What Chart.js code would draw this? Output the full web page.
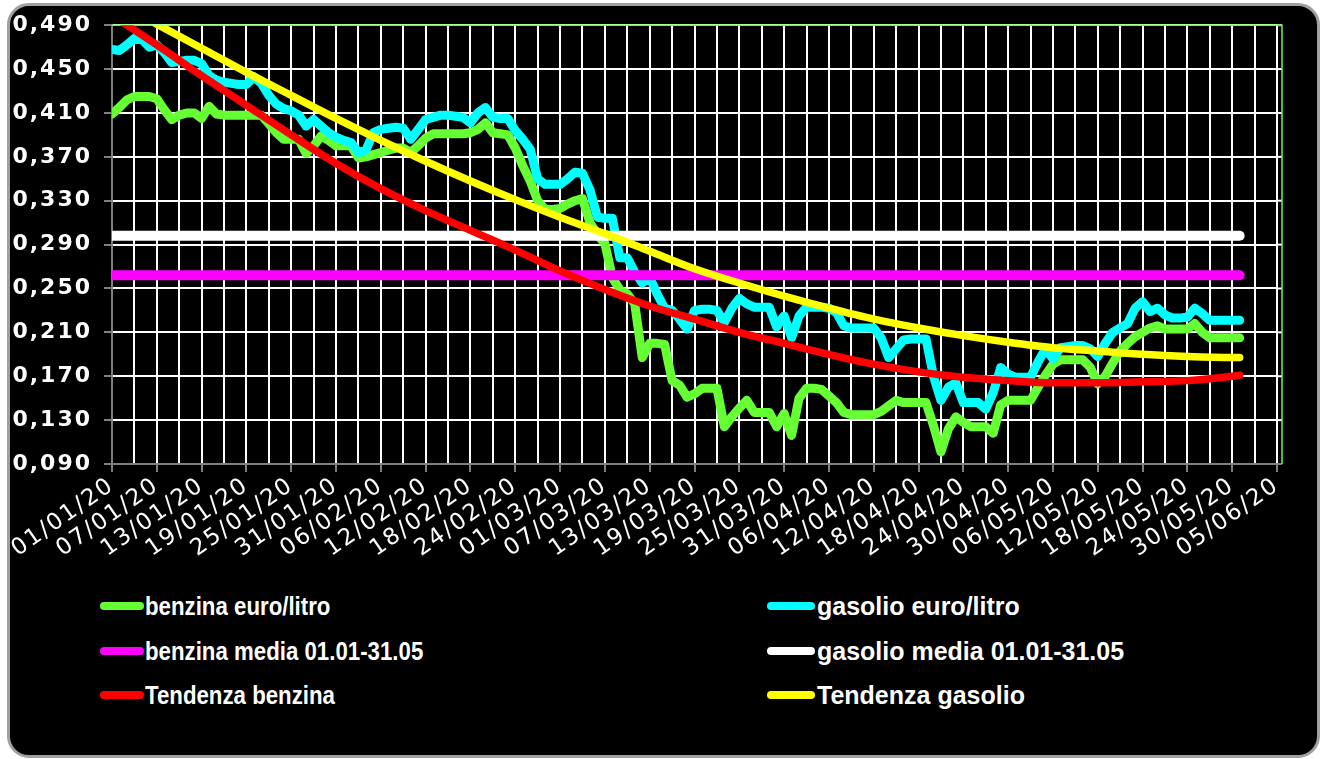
<!DOCTYPE html>
<html>
<head>
<meta charset="utf-8">
<script src="https://cdn.jsdelivr.net/npm/chart.js@4.4.1/dist/chart.umd.min.js"></script>
<style>
html, body { margin: 0; padding: 0; background: #fff; width: 1322px; height: 759px; overflow: hidden; }
#frame { position: absolute; left: 7px; top: 3px; width: 1313px; height: 755px; background: #000;
         border: 3px solid #a0a0a0; border-radius: 22px; box-sizing: border-box; }
#c { position: absolute; left: 0; top: 0; }
.leg { position: absolute; color: #fff; font: bold 25px "Liberation Sans", Arial, sans-serif;
       white-space: nowrap; line-height: 28px; height: 28px; }
.leg i { display: inline-block; height: 8px; border-radius: 4px; vertical-align: middle; }
.leg span { display: inline-block; transform-origin: 0 50%; vertical-align: middle; }
</style>
</head>
<body>
<div id="frame"></div>
<canvas id="c" width="1322" height="560"></canvas>
<div id="legend"></div>
<script>
// giorni dal 01/01/20 al 05/06/20
const giorni = [];
for (let d = new Date(2020, 0, 1); d <= new Date(2020, 5, 5); d.setDate(d.getDate() + 1)) {
    const dd = String(d.getDate()).padStart(2, '0');
    const mm = String(d.getMonth() + 1).padStart(2, '0');
    giorni.push(dd + '/' + mm + '/20');
}

// prezzi giornalieri 01/01 - 31/05 (euro/litro)
const benzina = [
    0.409, 0.415, 0.422, 0.425, 0.425, 0.425, 0.423, 0.413, 0.404, 0.408,
    0.410, 0.410, 0.405, 0.416, 0.409, 0.408, 0.408, 0.408, 0.408, 0.408,
    0.408, 0.400, 0.392, 0.386, 0.386, 0.386, 0.373, 0.380, 0.389, 0.385,
    0.380, 0.380, 0.380, 0.369, 0.370, 0.372, 0.374, 0.376, 0.378, 0.378,
    0.374, 0.380, 0.387, 0.391, 0.391, 0.391, 0.391, 0.391, 0.392, 0.395,
    0.401, 0.392, 0.391, 0.390, 0.378, 0.362, 0.348, 0.330, 0.322, 0.322,
    0.323, 0.327, 0.330, 0.332, 0.310, 0.299, 0.291, 0.260, 0.249, 0.245,
    0.236, 0.187, 0.200, 0.200, 0.199, 0.166, 0.162, 0.151, 0.154, 0.159,
    0.159, 0.159, 0.124, 0.133, 0.141, 0.148, 0.137, 0.137, 0.137, 0.124,
    0.136, 0.116, 0.150, 0.159, 0.159, 0.158, 0.152, 0.146, 0.137, 0.135,
    0.135, 0.135, 0.135, 0.138, 0.143, 0.148, 0.146, 0.146, 0.146, 0.146,
    0.125, 0.101, 0.122, 0.133, 0.128, 0.124, 0.124, 0.124, 0.118, 0.144,
    0.148, 0.148, 0.148, 0.148, 0.160, 0.171, 0.181, 0.185, 0.185, 0.185,
    0.185, 0.178, 0.163, 0.170, 0.182, 0.193, 0.200, 0.206, 0.210, 0.214,
    0.216, 0.213, 0.213, 0.213, 0.213, 0.218, 0.210, 0.205, 0.205, 0.205,
    0.205, 0.205
];
const gasolio = [
    0.468, 0.467, 0.472, 0.478, 0.477, 0.470, 0.472, 0.465, 0.456, 0.457,
    0.458, 0.458, 0.455, 0.444, 0.440, 0.438, 0.437, 0.436, 0.436, 0.443,
    0.437, 0.426, 0.418, 0.414, 0.412, 0.408, 0.398, 0.404, 0.398, 0.392,
    0.388, 0.385, 0.383, 0.374, 0.376, 0.392, 0.395, 0.396, 0.397, 0.396,
    0.386, 0.395, 0.404, 0.406, 0.408, 0.408, 0.407, 0.406, 0.401, 0.410,
    0.415, 0.406, 0.405, 0.405, 0.394, 0.386, 0.377, 0.350, 0.345, 0.345,
    0.345, 0.350, 0.356, 0.355, 0.340, 0.315, 0.314, 0.314, 0.278, 0.278,
    0.265, 0.255, 0.260, 0.245, 0.232, 0.230, 0.222, 0.213, 0.230, 0.231,
    0.231, 0.230, 0.219, 0.232, 0.241, 0.236, 0.233, 0.233, 0.233, 0.215,
    0.225, 0.205, 0.225, 0.233, 0.233, 0.233, 0.232, 0.228, 0.216, 0.214,
    0.214, 0.214, 0.214, 0.205, 0.187, 0.195, 0.203, 0.204, 0.204, 0.204,
    0.170, 0.148, 0.160, 0.164, 0.146, 0.146, 0.146, 0.140, 0.155, 0.178,
    0.172, 0.169, 0.169, 0.169, 0.183, 0.195, 0.186, 0.196, 0.197, 0.198,
    0.198, 0.195, 0.188, 0.200, 0.210, 0.214, 0.218, 0.232, 0.238, 0.229,
    0.232, 0.226, 0.223, 0.223, 0.224, 0.232, 0.227, 0.221, 0.221, 0.221,
    0.221, 0.221
];

// medie 01.01-31.05
const mediaBenzina = 0.262;
const mediaGasolio = 0.298;

// linee di tendenza lette ogni 6 giorni
const trendIdx = [0, 6, 12, 18, 24, 30, 36, 42, 48, 54, 60, 66, 72, 78, 84,
                  90, 96, 102, 108, 114, 120, 126, 132, 138, 144, 150, 151];
const trendBenzina = [0.499, 0.472, 0.444, 0.417, 0.390, 0.364, 0.341, 0.321, 0.303,
                      0.285, 0.266, 0.249, 0.234, 0.222, 0.210, 0.200, 0.190, 0.181,
                      0.174, 0.169, 0.166, 0.164, 0.164, 0.165, 0.166, 0.170, 0.171];
const trendGasolio = [0.513, 0.491, 0.469, 0.447, 0.426, 0.405, 0.385, 0.366, 0.348,
                      0.331, 0.315, 0.300, 0.284, 0.268, 0.255, 0.243, 0.232, 0.222,
                      0.214, 0.207, 0.201, 0.196, 0.193, 0.190, 0.188, 0.187, 0.187];

const ultimo = giorni.indexOf('31/05/20');
const media = v => [{x: giorni[0], y: v}, {x: giorni[ultimo], y: v}];
const trend = vals => trendIdx.map((d, i) => ({x: giorni[d], y: vals[i]}));

const base = {pointRadius: 0, borderJoinStyle: 'round', borderCapStyle: 'round', clip: 0, fill: false};

// testo degli assi più spaziato, poi bordo verde dell'area del grafico
const cornice = {
    id: 'cornice',
    beforeDraw(chart) {
        chart.ctx.letterSpacing = '2px';
    },
    beforeDatasetsDraw(chart) {
        const {ctx, chartArea: a, scales: {y}} = chart;
        ctx.letterSpacing = '0px';
        ctx.save();
        ctx.strokeStyle = '#fff';
        ctx.lineWidth = 2;
        y.ticks.forEach(t => {
            const py = y.getPixelForValue(t.value);
            ctx.beginPath(); ctx.moveTo(a.right, py); ctx.lineTo(a.right + 5, py); ctx.stroke();
        });
        ctx.strokeStyle = '#808080';
        ctx.beginPath(); ctx.moveTo(a.right, a.bottom); ctx.lineTo(a.right + 5, a.bottom); ctx.stroke();
        ctx.strokeStyle = '#66ff33';
        ctx.lineWidth = 1.5;
        ctx.beginPath();
        ctx.moveTo(a.left, a.top); ctx.lineTo(a.right + 5, a.top); ctx.lineTo(a.right + 5, a.bottom);
        ctx.stroke();
        ctx.restore();
    }
};

const chart = new Chart(document.getElementById('c'), {
    type: 'line',
    data: {
        labels: giorni,
        datasets: [
            {...base, label: 'benzina euro/litro', data: benzina, borderColor: '#66ff33', borderWidth: 9, order: 6},
            {...base, label: 'gasolio euro/litro', data: gasolio, borderColor: '#00ffff', borderWidth: 9, order: 5},
            {...base, label: 'benzina media 01.01-31.05', data: media(mediaBenzina), borderColor: '#ff00ff', borderWidth: 10, order: 4},
            {...base, label: 'gasolio media 01.01-31.05', data: media(mediaGasolio), borderColor: '#ffffff', borderWidth: 10, order: 3},
            {...base, label: 'Tendenza benzina', data: trend(trendBenzina), borderColor: '#ff0000', borderWidth: 7.5,
             cubicInterpolationMode: 'monotone', order: 2},
            {...base, label: 'Tendenza gasolio', data: trend(trendGasolio), borderColor: '#ffff00', borderWidth: 7.5,
             cubicInterpolationMode: 'monotone', order: 1}
        ]
    },
    options: {
        responsive: false,
        animation: false,
        spanGaps: true,
        layout: {padding: {left: 0, top: 24, right: 45, bottom: 0}},
        plugins: {legend: {display: false}, tooltip: {enabled: false}},
        scales: {
            x: {
                afterFit: s => { s.height = 96; },
                grid: {
                    color: c => c.index % 3 === 0 ? '#ffffff' : 'rgba(0,0,0,0)',
                    tickColor: c => c.index % 6 === 0 ? '#808080' : 'rgba(0,0,0,0)',
                    lineWidth: 2,
                    tickLength: 8
                },
                border: {color: '#808080', width: 2},
                ticks: {
                    autoSkip: false,
                    minRotation: 35,
                    maxRotation: 35,
                    padding: 0,
                    color: '#ffffff',
                    font: {family: 'DejaVu Sans', size: 23},
                    callback: function (v, i) { return i % 6 === 0 ? this.getLabelForValue(v) : ''; }
                }
            },
            y: {
                min: 0.09,
                max: 0.49,
                afterFit: s => { s.width = 112; },
                grid: {color: '#ffffff', lineWidth: 2, tickColor: '#808080', tickLength: 8},
                border: {color: '#808080', width: 2},
                ticks: {
                    stepSize: 0.04,
                    padding: 12,
                    color: '#ffffff',
                    font: {family: 'DejaVu Sans', size: 22, weight: 'bold'},
                    callback: v => v.toFixed(3).replace('.', ',')
                }
            }
        }
    },
    plugins: [cornice]
});

// legenda su due colonne
const legend = document.getElementById('legend');
const colonne = [{sx: 100, w: 44, tx: 145, k: 0.89}, {sx: 767, w: 48, tx: 817, k: 1}];
const righe = [604, 649, 693];
chart.data.datasets.forEach((ds, i) => {
    const col = colonne[i % 2];
    const el = document.createElement('div');
    el.className = 'leg';
    el.style.left = col.sx + 'px';
    el.style.top = (righe[Math.floor(i / 2)] - 14) + 'px';
    const sw = document.createElement('i');
    sw.style.width = col.w + 'px';
    sw.style.background = ds.borderColor;
    sw.style.marginRight = (col.tx - col.sx - col.w) + 'px';
    const tx = document.createElement('span');
    tx.textContent = ds.label;
    tx.style.transform = 'scaleX(' + col.k + ')';
    el.appendChild(sw);
    el.appendChild(tx);
    legend.appendChild(el);
});
</script>
</body>
</html>
